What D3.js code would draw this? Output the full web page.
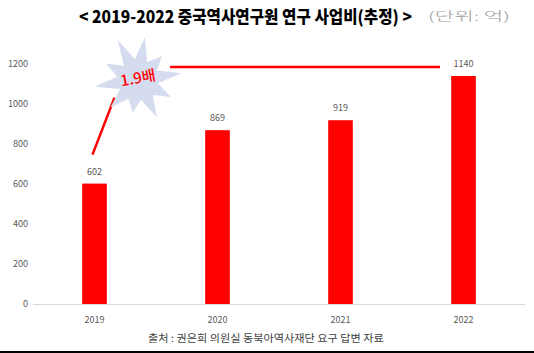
<!DOCTYPE html>
<html>
<head>
<meta charset="utf-8">
<script src="https://cdn.jsdelivr.net/npm/d3@7"></script>
<style>
  html, body { margin: 0; padding: 0; background: #fff; }
  svg { display: block; font-family: "Noto Sans CJK KR", "Noto Sans", sans-serif; }
</style>
</head>
<body>
<div id="chart"></div>
<script>
const years = ["2019", "2020", "2021", "2022"];
const budget = [602, 869, 919, 1140];
const yTicks = [0, 200, 400, 600, 800, 1000, 1200];
const titleText = "< 2019-2022 중국역사연구원 연구 사업비(추정) >";
const unitText = "(단위: 억)";
const sourceText = "출처 : 권은희 의원실 동북아역사재단 요구 답변 자료";
const ratioText = "1.9배";

const width = 534;
const height = 353;

const svg = d3.select("#chart")
  .append("svg")
  .attr("width", width)
  .attr("height", height);

const x = d3.scaleBand()
  .domain(years)
  .range([33, 525])
  .paddingInner(0.8)
  .paddingOuter(0.4);

const y = d3.scaleLinear()
  .domain([0, 1200])
  .range([304, 64]);

// squeeze a text horizontally so it spans w pixels from (tx, ty)
const fitText = (sel, tx, ty, w) => {
  const natural = sel.node().getComputedTextLength();
  sel.attr("transform", `translate(${tx},${ty}) scale(${w / natural},1)`);
};

// y tick labels (no axis line)
svg.append("g")
  .selectAll("text")
  .data(yTicks)
  .join("text")
  .attr("x", 28)
  .attr("y", (d) => y(d))
  .attr("dy", "0.35em")
  .attr("text-anchor", "end")
  .attr("font-size", 9)
  .attr("fill", "#595959")
  .text((d) => d);

// bars
svg.append("g")
  .selectAll("rect")
  .data(budget)
  .join("rect")
  .attr("x", (d, i) => x(years[i]))
  .attr("y", (d) => y(d))
  .attr("width", x.bandwidth())
  .attr("height", (d) => y(0) - y(d))
  .attr("fill", "#ff0000");

// baseline
svg.append("line")
  .attr("x1", 33)
  .attr("x2", 525)
  .attr("y1", y(0) + 0.5)
  .attr("y2", y(0) + 0.5)
  .attr("stroke", "#d9d9d9")
  .attr("stroke-width", 1);

// value labels
svg.append("g")
  .selectAll("text")
  .data(budget)
  .join("text")
  .attr("x", (d, i) => x(years[i]) + x.bandwidth() / 2)
  .attr("y", (d) => y(d) - 12)
  .attr("dy", "0.35em")
  .attr("text-anchor", "middle")
  .attr("font-size", 9)
  .attr("fill", "#595959")
  .text((d) => d);

// x labels
svg.append("g")
  .selectAll("text")
  .data(years)
  .join("text")
  .attr("x", (d) => x(d) + x.bandwidth() / 2)
  .attr("y", 320)
  .attr("dy", "0.35em")
  .attr("text-anchor", "middle")
  .attr("font-size", 9)
  .attr("fill", "#595959")
  .text((d) => d);

// growth arrow lines
const first = x(years[0]) + x.bandwidth() / 2;
svg.append("line")
  .attr("x1", first - 2)
  .attr("y1", y(budget[0]) - 29)
  .attr("x2", first + 20)
  .attr("y2", y(budget[0]) - 86)
  .attr("stroke", "#ff0000")
  .attr("stroke-width", 2.5);

svg.append("line")
  .attr("x1", 170)
  .attr("x2", 440)
  .attr("y1", y(budget[3]) - 9)
  .attr("y2", y(budget[3]) - 9)
  .attr("stroke", "#ff0000")
  .attr("stroke-width", 2.5);

// starburst
const burstR = [43, 20, 34, 21, 44, 20, 37, 21, 42, 20, 33, 21, 39, 20, 44, 21, 36, 20, 45, 21];
const burst = d3.lineRadial()
  .angle((d, i) => (i / burstR.length) * 2 * Math.PI + 0.16)
  .radius((d) => d)
  .curve(d3.curveLinearClosed);

svg.append("path")
  .attr("transform", "translate(138,80)")
  .attr("d", burst(burstR))
  .attr("fill", "#d5dcef");

svg.append("text")
  .attr("transform", "translate(138,78) rotate(-10)")
  .attr("text-anchor", "middle")
  .attr("dy", "0.35em")
  .attr("font-size", 15)
  .attr("font-weight", 500)
  .attr("fill", "#ff0000")
  .text(ratioText);

// title
const title = svg.append("text")
  .attr("dy", "0.35em")
  .attr("font-size", 17)
  .attr("font-weight", 900)
  .attr("fill", "#000")
  .text(titleText);
fitText(title, 79, 17, 333);

const unit = svg.append("text")
  .attr("dy", "0.35em")
  .attr("font-size", 12)
  .attr("font-weight", 300)
  .attr("fill", "#9a9a9a")
  .text(unitText);
fitText(unit, 428, 17, 82);

// source
const source = svg.append("text")
  .attr("dy", "0.35em")
  .attr("font-size", 10)
  .attr("fill", "#404040")
  .text(sourceText);
fitText(source, 148, 338, 236);

// bottom border
svg.append("rect")
  .attr("x", 0)
  .attr("y", 351)
  .attr("width", width)
  .attr("height", 2)
  .attr("fill", "#000");
</script>
</body>
</html>
